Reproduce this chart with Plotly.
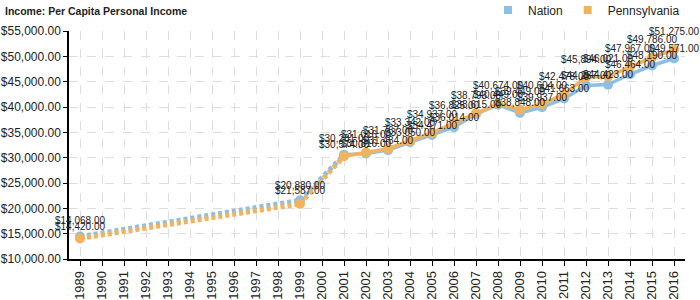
import plotly.graph_objects as go

years = [1989, 1999, 2001, 2002, 2003, 2004, 2005, 2006, 2007, 2008,
         2009, 2010, 2011, 2012, 2013, 2014, 2015, 2016]
nation = [14420, 21587, 30574, 30816, 31484, 33050, 34471, 36014, 38615, 40449,
          38848, 39937, 41663, 44267, 44423, 46464, 48190, 49571]
penn = [14068, 20880, 30281, 31016, 31767, 33342, 34937, 36825, 38793, 40674,
        39449, 40604, 42478, 45894, 46021, 47967, 49786, 51275]

series = [("Nation", nation, "#8dbfe3", 10), ("Pennsylvania", penn, "#f2b35f", 18)]

all_years = list(range(years[0], years[-1] + 1))
fig = go.Figure()
annotations = []

for name, vals, color, shift in series:
    lookup = dict(zip(years, vals))
    # dashed bridges across missing years
    gx, gy = [], []
    for i in range(len(years) - 1):
        if years[i + 1] - years[i] > 1:
            gx += [years[i], years[i + 1], None]
            gy += [vals[i], vals[i + 1], None]
    fig.add_trace(go.Scatter(x=gx, y=gy, mode="lines", showlegend=False,
                             line=dict(color=color, width=5, dash="4px,3px"),
                             hoverinfo="skip"))
    fig.add_trace(go.Scatter(x=all_years, y=[lookup.get(y) for y in all_years],
                             mode="lines+markers", connectgaps=False, showlegend=False,
                             name=name, line=dict(color=color, width=3.5),
                             marker=dict(color=color, size=10)))
    fig.add_trace(go.Scatter(x=[None], y=[None], mode="markers", name=name,
                             marker=dict(color=color, symbol="square", size=8)))
    for x, v in zip(years, vals):
        annotations.append(dict(x=x, y=v, text=f"${v:,.2f}", showarrow=False,
                                yshift=shift, font=dict(size=10, color="#222",
                                family="Liberation Sans, Arial")))

fig.update_layout(
    width=700, height=300,
    margin=dict(l=69, r=15, t=31, b=41, autoexpand=False),
    paper_bgcolor="white", plot_bgcolor="white",
    font=dict(family="Liberation Sans, Arial", size=13, color="#222"),
    title=dict(text="<b>Income: Per Capita Personal Income</b>", x=5 / 700, xanchor="left",
               xref="container", y=1 - 11 / 300, yanchor="middle", yref="container",
               font=dict(size=10.5, color="#222")),
    legend=dict(orientation="h", x=1, xanchor="right", y=1 - 10 / 300, yanchor="middle",
                yref="container", font=dict(size=12, color="#222"),
                itemwidth=30, tracegroupgap=0, bgcolor="rgba(0,0,0,0)"),
    annotations=annotations,
)
fig.update_xaxes(range=[1988.5, 2016.5], tickmode="array", tickvals=all_years,
                 ticktext=[str(y) for y in all_years], tickangle=-90, automargin=False,
                 showline=True, linecolor="black", linewidth=1.5,
                 ticks="outside", ticklen=5, tickcolor="black",
                 showgrid=True, gridcolor="#dddddd", griddash="dash", zeroline=False)
fig.update_yaxes(range=[10000, 55000], dtick=5000, tickformat="$,.2f", automargin=False,
                 tickfont=dict(size=12),
                 showline=True, linecolor="black", linewidth=1.5,
                 ticks="outside", ticklen=4, tickcolor="black",
                 showgrid=True, gridcolor="#dddddd", griddash="dash", zeroline=False)

fig.write_html("out.html")
